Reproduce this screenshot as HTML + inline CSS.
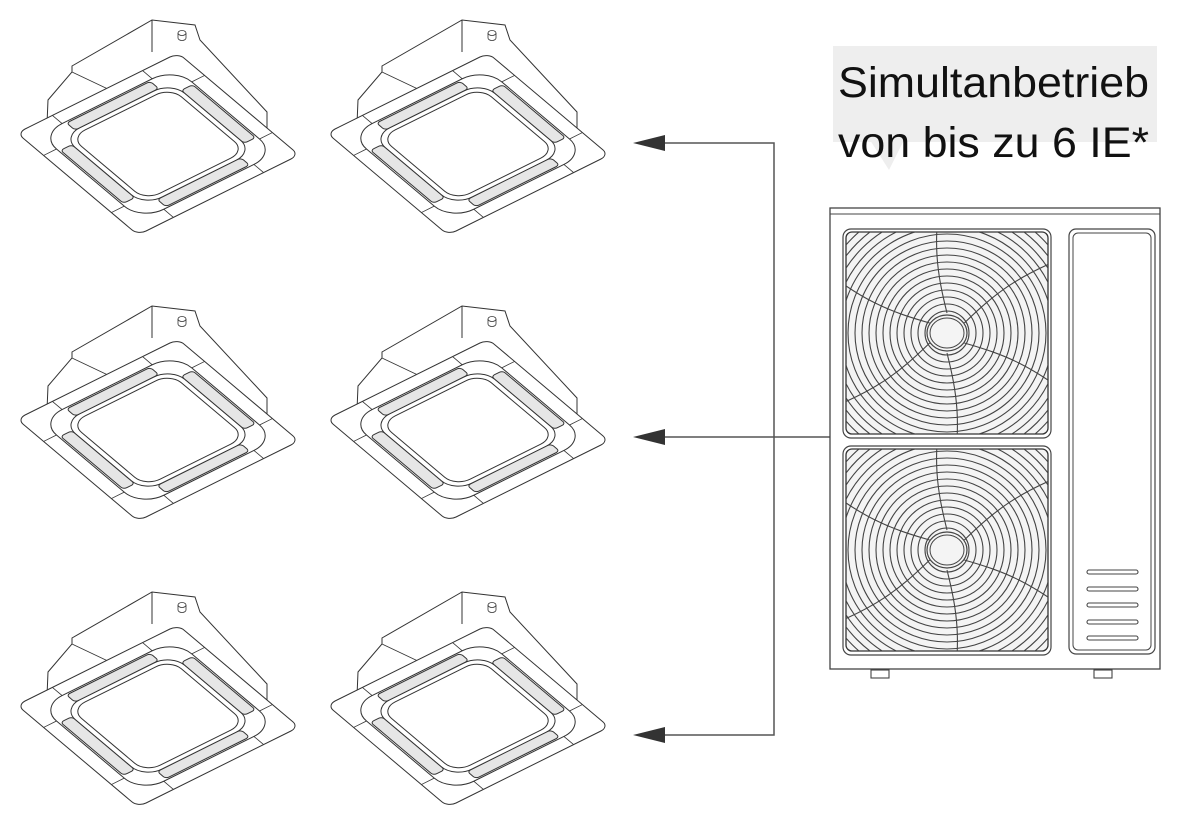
<!DOCTYPE html>
<html><head><meta charset="utf-8"><style>
html,body{margin:0;padding:0;background:#fff;width:1177px;height:824px;overflow:hidden}
svg{display:block}
</style></head><body>
<svg width="1177" height="824" viewBox="0 0 1177 824" xmlns="http://www.w3.org/2000/svg">
<defs>
<g id="cas">
  <polygon points="47,124 48,100 72,72 72,66 152,20 195,25 200,40 267,112 267,132 140,200" fill="#fff" stroke="#333" stroke-width="1"/>
  <line x1="152" y1="20" x2="152" y2="52" stroke="#333" stroke-width="1"/>
  <line x1="72" y1="72" x2="110" y2="90" stroke="#333" stroke-width="0.8"/>
  <ellipse cx="182" cy="33" rx="4" ry="2.5" fill="#fff" stroke="#333" stroke-width="0.8"/>
  <path d="M178,33 v5 a4,2.5 0 0 0 8,0 v-5" fill="none" stroke="#333" stroke-width="0.8"/>
  <g transform="matrix(1.21,1.02,1.61,-0.80,17,133)">
    <rect x="0" y="0" width="100" height="100" rx="5" fill="#fff" stroke="#333" stroke-width="1" vector-effect="non-scaling-stroke"/>
    <rect x="8" y="8" width="84" height="84" rx="14" fill="#fff" stroke="#333" stroke-width="1" vector-effect="non-scaling-stroke"/>
    <rect x="16" y="16" width="68" height="68" rx="11" fill="#fff" stroke="#333" stroke-width="1" vector-effect="non-scaling-stroke"/>
    <rect x="19" y="19" width="62" height="62" rx="9" fill="#fff" stroke="#333" stroke-width="1" vector-effect="non-scaling-stroke"/>
    <rect x="24" y="9" width="52" height="7" rx="2" fill="#e6e6e6" stroke="#333" stroke-width="1" vector-effect="non-scaling-stroke"/>
    <rect x="24" y="84" width="52" height="7" rx="2" fill="#e6e6e6" stroke="#333" stroke-width="1" vector-effect="non-scaling-stroke"/>
    <rect x="9" y="24" width="7" height="52" rx="2" fill="#e6e6e6" stroke="#333" stroke-width="1" vector-effect="non-scaling-stroke"/>
    <rect x="84" y="24" width="7" height="52" rx="2" fill="#e6e6e6" stroke="#333" stroke-width="1" vector-effect="non-scaling-stroke"/>
    <g stroke="#333" stroke-width="0.8">
      <line x1="22" y1="0" x2="22" y2="8" vector-effect="non-scaling-stroke"/>
      <line x1="78" y1="0" x2="78" y2="8" vector-effect="non-scaling-stroke"/>
      <line x1="22" y1="92" x2="22" y2="100" vector-effect="non-scaling-stroke"/>
      <line x1="78" y1="92" x2="78" y2="100" vector-effect="non-scaling-stroke"/>
      <line x1="0" y1="22" x2="8" y2="22" vector-effect="non-scaling-stroke"/>
      <line x1="0" y1="78" x2="8" y2="78" vector-effect="non-scaling-stroke"/>
      <line x1="92" y1="22" x2="100" y2="22" vector-effect="non-scaling-stroke"/>
      <line x1="92" y1="78" x2="100" y2="78" vector-effect="non-scaling-stroke"/>
    </g>
  </g>
</g>
<g id="fan">
  <g fill="none" stroke="#444" stroke-width="1.1">
    <circle r="22"/><circle r="29"/><circle r="36"/><circle r="43"/><circle r="50"/><circle r="57"/><circle r="64"/><circle r="71"/><circle r="78"/><circle r="85"/><circle r="92"/><circle r="99"/><circle r="106"/><circle r="113"/><circle r="120"/><circle r="127"/><circle r="134"/><circle r="141"/><circle r="148"/><circle r="155"/><circle r="162"/>
  </g>
  <g fill="none" stroke="#444" stroke-width="1.1">
    <path id="bl" d="M0,-20 C-10,-60 -15,-90 -5,-150"/>
    <use href="#bl" transform="rotate(60)"/>
    <use href="#bl" transform="rotate(120)"/>
    <use href="#bl" transform="rotate(180)"/>
    <use href="#bl" transform="rotate(240)"/>
    <use href="#bl" transform="rotate(300)"/>
  </g>
  <ellipse rx="20" ry="18" fill="#f4f4f4" stroke="#444" stroke-width="1.2"/>
  <ellipse rx="17" ry="15" fill="#f4f4f4" stroke="#444" stroke-width="1"/>
</g>
<clipPath id="c1"><rect x="846" y="232" width="202" height="202" rx="6"/></clipPath>
<clipPath id="c2"><rect x="846" y="449" width="202" height="202" rx="6"/></clipPath>
</defs>

<use href="#cas"/>
<use href="#cas" transform="translate(310,0)"/>
<use href="#cas" transform="translate(0,286)"/>
<use href="#cas" transform="translate(310,286)"/>
<use href="#cas" transform="translate(0,572)"/>
<use href="#cas" transform="translate(310,572)"/>

<g stroke="#555" stroke-width="1.5" fill="none">
  <polyline points="665,143 774,143 774,735 665,735"/>
  <line x1="665" y1="437" x2="831" y2="437"/>
</g>
<g fill="#333">
  <polygon points="633,143 665,135 665,151"/>
  <polygon points="633,437 665,429 665,445"/>
  <polygon points="633,735 665,727 665,743"/>
</g>

<rect x="833" y="46" width="324" height="96" fill="#eeeeee"/>
<polygon points="870,140 904,140 889,170" fill="#eeeeee"/>
<text x="838" y="97" font-family="Liberation Sans, sans-serif" font-size="43" fill="#111" textLength="311" lengthAdjust="spacingAndGlyphs">Simultanbetrieb</text>
<text x="838" y="157" font-family="Liberation Sans, sans-serif" font-size="43" fill="#111" textLength="311" lengthAdjust="spacingAndGlyphs">von bis zu 6 IE*</text>

<rect x="830" y="208" width="330" height="461" fill="#fff" stroke="#444" stroke-width="1.3"/>
<line x1="830" y1="214" x2="1160" y2="214" stroke="#444" stroke-width="1"/>
<rect x="843" y="229" width="208" height="209" rx="8" fill="#fff" stroke="#444" stroke-width="1.2"/>
<rect x="846" y="232" width="202" height="202" rx="6" fill="#f4f4f4" stroke="#333" stroke-width="1.3"/>
<g clip-path="url(#c1)"><use href="#fan" transform="translate(947,333)"/></g>
<rect x="843" y="446" width="208" height="209" rx="8" fill="#fff" stroke="#444" stroke-width="1.2"/>
<rect x="846" y="449" width="202" height="202" rx="6" fill="#f4f4f4" stroke="#333" stroke-width="1.3"/>
<g clip-path="url(#c2)"><use href="#fan" transform="translate(947,550)"/></g>
<rect x="1069" y="229" width="86" height="425" rx="7" fill="#fff" stroke="#444" stroke-width="1.2"/>
<rect x="1073" y="233" width="78" height="417" rx="5" fill="#fff" stroke="#444" stroke-width="1"/>
<g fill="#fff" stroke="#444" stroke-width="1.1">
  <rect x="1087" y="570" width="51" height="4" rx="2"/>
  <rect x="1087" y="587" width="51" height="4" rx="2"/>
  <rect x="1087" y="603" width="51" height="4" rx="2"/>
  <rect x="1087" y="620" width="51" height="4" rx="2"/>
  <rect x="1087" y="636" width="51" height="4" rx="2"/>
</g>
<g fill="#fff" stroke="#444" stroke-width="1.1">
  <rect x="871" y="670" width="18" height="8"/>
  <rect x="1094" y="670" width="18" height="8"/>
</g>
</svg>
</body></html>
